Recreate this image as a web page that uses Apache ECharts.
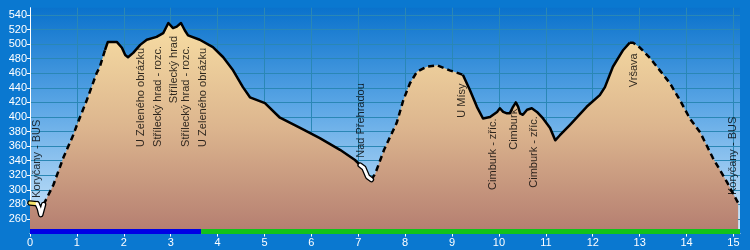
<!DOCTYPE html>
<html><head><meta charset="utf-8">
<script src="https://cdn.jsdelivr.net/npm/echarts@6/dist/echarts.min.js"></script>
<style>html,body{margin:0;padding:0;background:#0a78d0;overflow:hidden}#c{width:750px;height:250px}</style>
</head><body><div id="c"></div>
<script>
// profile: distance (km) and elevation (m)
const profileKm = [0,0.15,0.2,0.23,0.26,0.29,0.5,0.71,0.92,1.0,1.21,1.42,1.49,1.6,1.66,1.85,1.96,2.03,2.09,2.2,2.35,2.49,2.7,2.84,2.95,3.05,3.13,3.22,3.3,3.37,3.62,3.9,4.12,4.33,4.54,4.69,5.01,5.33,5.76,6.18,6.61,6.93,7.04,7.12,7.2,7.28,7.36,7.55,7.82,7.96,8.1,8.25,8.46,8.68,8.95,9.23,9.38,9.53,9.66,9.81,9.96,10.02,10.09,10.17,10.23,10.3,10.36,10.41,10.45,10.51,10.6,10.7,10.81,10.94,11.09,11.2,11.3,11.51,11.87,12.15,12.26,12.43,12.65,12.79,12.86,13.01,13.22,13.43,13.65,13.86,14.07,14.29,14.56,14.86,15.1];
const profileElev = [282,281,274,266,268,280,307,344,375,389,423,460,469,492,503,503,495,485,482,488,499,506,510,515,529,522,524,529,519,512,506,496,482,464,441,427,419,399,385,371,355,341,334,330,318,314,322,355,392,423,446,462,469,471,464,458,437,414,398,400,407,412,407,405,405,414,420,414,405,403,410,412,407,398,385,368,375,389,414,430,441,469,492,502,502,495,481,464,446,423,398,379,344,311,282];

// line style segments along the route
const segFrom = [0, 0.15, 0.29, 1.6, 7.04, 7.28, 9.23, 12.79];
const segTo   = [0.15, 0.29, 1.6, 7.04, 7.28, 9.23, 12.79, 15.1];
const segKind = ['start','hook','dash','solid','hook','dash','solid','dash'];

// route colour bar along the bottom
const routeFrom = [0, 3.65];
const routeTo = [3.65, 15.14];
const routeColor = ['#0000e6', '#12c21a'];

// points of interest
const poiName = ['Koryčany - BUS','U Zeleného obrázku','Střílecký hrad - rozc.','Střílecký hrad','Střílecký hrad - rozc.','U Zeleného obrázku','Nad Přehradou','U Mísy','Cimburk - zříc.','Cimburk','Cimburk - zříc.','Vršava','Koryčany - BUS'];
const poiKm = [0.14, 2.36, 2.72, 3.08, 3.33, 3.68, 7.06, 9.22, 9.88, 10.32, 10.74, 12.88, 14.98];
const poiBase = [289, 359, 359, 419, 359, 359, 344, 399, 300, 355, 303, 441, 293];

const yMin = 240, yMax = 550, xMax = 15.14, barLevel = 242.9;

const pts = profileKm.map((k,i)=>[k, profileElev[i]]);
const series = [];
series.push({type:'line', data: pts, symbol:'none', silent:true, z:2,
  lineStyle:{width:0},
  areaStyle:{opacity:1, color:{type:'linear',x:0,y:0,x2:0,y2:1,colorStops:[{offset:0,color:'#f7dda3'},{offset:0.5,color:'#dcb58e'},{offset:1,color:'#b47d70'}]}}
});
segKind.forEach((kind,s)=>{
  const d = pts.filter(p=>p[0]>=segFrom[s]-1e-9 && p[0]<=segTo[s]+1e-9);
  if (kind==='hook' || kind==='start') {
    series.push({type:'line', data:d, symbol:'none', silent:true, z:4, lineStyle:{color:'#000', width:5.5, cap:'round', join:'round'}});
    series.push({type:'line', data:d, symbol:'none', silent:true, z:5, lineStyle:{color: kind==='start' ? '#f4e36a' : '#ffffff', width:3, cap:'round', join:'round'}});
  } else {
    series.push({type:'line', data:d, symbol:'none', silent:true, z:4,
      lineStyle:{color:'#000', width:2.5, type: kind==='dash' ? [6,4] : 'solid', join:'round'}});
  }
});
routeFrom.forEach((f,i)=>{
  series.push({type:'line', data:[[f,barLevel],[routeTo[i],barLevel]], symbol:'none', silent:true, z:6,
    lineStyle:{color:routeColor[i], width:5}});
});
series.push({type:'scatter', symbolSize:1, itemStyle:{color:'rgba(0,0,0,0)'}, silent:true, z:7,
  data: poiKm.map((k,i)=>({value:[k, poiBase[i]], name: poiName[i]})),
  label:{show:true, position:'inside', rotate:90, align:'left', verticalAlign:'middle',
    formatter: p=>p.name, color:'#000', fontSize:11, fontFamily:'Liberation Sans, Arial, sans-serif'}
});

const chart = echarts.init(document.getElementById('c'), null, {renderer:'canvas'});
chart.setOption({
  animation:false,
  backgroundColor:'#0a78d0',
  grid:{left:30, right:10, top:7.7, bottom:16.4, show:true, borderWidth:0,
    backgroundColor:{type:'linear',x:0,y:0,x2:0,y2:1,colorStops:[{offset:0,color:'#0a72cc'},{offset:0.45,color:'#5ea8e6'},{offset:1,color:'#d2e9fb'}]}},
  xAxis:{type:'value', min:0, max:xMax, interval:1,
    axisLine:{show:true, lineStyle:{color:'#ffffff', width:1}},
    axisTick:{show:true, length:3, lineStyle:{color:'#ffffff'}},
    axisLabel:{color:'#ffffff', fontSize:11, margin:4, showMaxLabel:false, fontFamily:'Liberation Sans, Arial, sans-serif'},
    splitLine:{show:true, showMinLine:false, showMaxLine:false, lineStyle:{color:'#2a87b5', width:1}}},
  yAxis:{type:'value', min:yMin, max:yMax, interval:20,
    axisLine:{show:true, lineStyle:{color:'#ffffff', width:1}},
    axisTick:{show:true, length:3, lineStyle:{color:'#ffffff'}},
    axisLabel:{color:'#ffffff', fontSize:11, margin:3, showMinLabel:false, showMaxLabel:false, fontFamily:'Liberation Sans, Arial, sans-serif'},
    splitLine:{show:true, showMinLine:false, showMaxLine:false, lineStyle:{color:'#2a87b5', width:1}}},
  series: series
});
</script></body></html>
